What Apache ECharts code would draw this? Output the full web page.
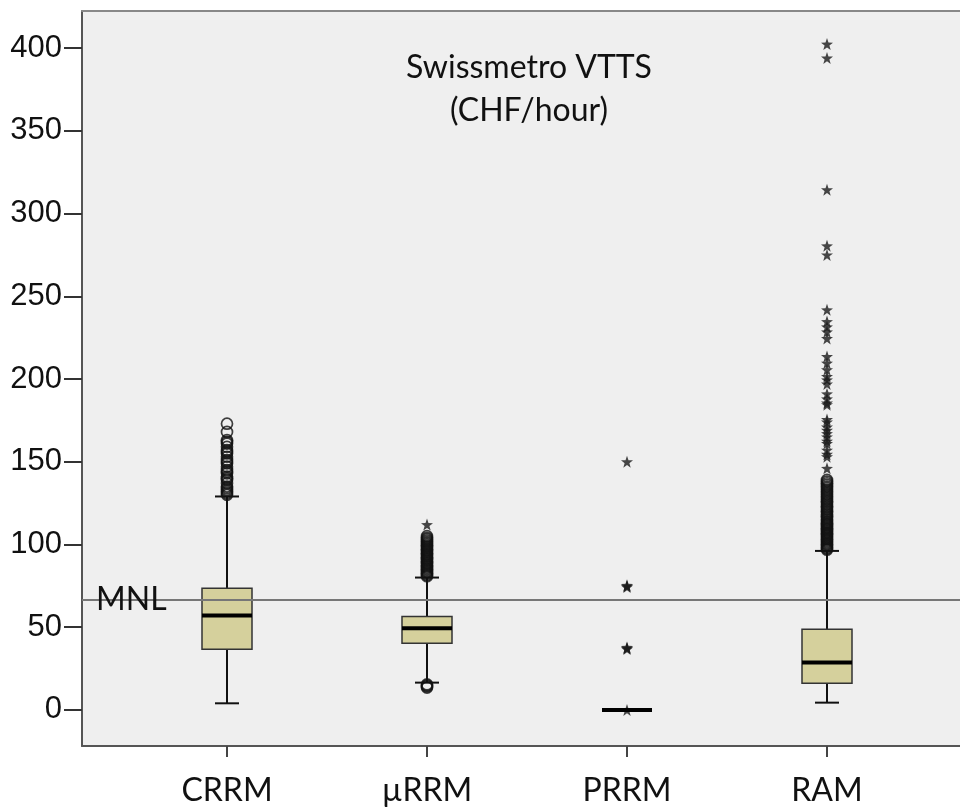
<!DOCTYPE html>
<html>
<head>
<meta charset="utf-8">
<title>Swissmetro VTTS</title>
<script src="https://cdn.jsdelivr.net/npm/echarts@6/dist/echarts.min.js"></script>
<style>
  html, body { margin: 0; padding: 0; background: #ffffff; }
  #chart { width: 960px; height: 810px; }
</style>
</head>
<body>
<div id="chart"></div>
<script>
// Models compared on the Swissmetro value of travel time savings
const categories = ['CRRM', 'µRRM', 'PRRM', 'RAM'];

// Box statistics per model (CHF/hour)
const whiskerLow  = [4.0, 16.5, 0, 4.4];
const quartile1   = [36.7, 40.3, 0, 16.1];
const median      = [57.0, 49.3, 0, 28.6];
const quartile3   = [73.6, 56.4, 0, 48.7];
const whiskerHigh = [129.0, 80.0, 0, 96.1];

// Outliers (circles) and extreme values (stars)
const crrmCircles = [130, 131, 132, 133, 134, 135, 137, 139, 140, 141, 143, 144, 145, 147, 149, 150, 151, 153, 155, 156, 157, 159, 161, 162, 163, 168, 173];
const urrmCircles = [13.5, 14.2, 14.8, 15.4, 80.8, 81.6, 82.4, 83.2, 84, 84.8, 85.6, 86.4, 87.2, 88, 88.8, 89.6, 90.4, 91.2, 92, 92.8, 93.6, 94.4, 95.2, 96, 96.8, 97.6, 98.4, 99.2, 100, 100.8, 101.6, 102.4, 103.2, 104, 105];
const urrmStars   = [112];
const prrmStars   = [0, 36.8, 37.3, 37.8, 74.3, 74.8, 75.3, 150];
const ramCircles  = [96.8, 97.5, 98.2, 99, 99.8, 100.5, 101.2, 102, 102.8, 103.5, 104.2, 105, 105.8, 106.5, 107.2, 108, 108.8, 109.5, 110.2, 111, 111.8, 112.5, 113.2, 114, 115, 116, 117, 118, 119, 120, 121, 122, 123, 124, 125, 126, 127, 128, 129, 130, 131, 132, 133, 134, 135, 136, 137, 138, 139];
const ramStars    = [146, 153, 154.5, 157, 161, 162.5, 165, 167, 169, 171, 174, 175.5, 184.5, 185.5, 188, 191, 197, 199.5, 201.5, 205.6, 209.6, 213.6, 224.5, 228.5, 231.5, 234.7, 241.8, 275, 280.5, 314.4, 394, 402.4];

// Multinomial logit reference value
const mnlValue = 66.5;

const yTicks = [0, 50, 100, 150, 200, 250, 300, 350, 400];
const xTicks = categories.map((c, i) => i + 1);

const boxData = categories.map((c, i) =>
  [i + 1, whiskerLow[i], quartile1[i], median[i], quartile3[i], whiskerHigh[i]]);

function pairs(xIndex, values) {
  return values.map(v => [xIndex, v]);
}

const STAR = 'path://M0,-10L2.35,-3.24L9.51,-3.09L3.8,1.24L5.88,8.09L0,4L-5.88,8.09L-3.8,1.24L-9.51,-3.09L-2.35,-3.24Z';

function renderBox(params, api) {
  const x = api.value(0);
  const pLow = api.coord([x, api.value(1)]);
  const pQ1 = api.coord([x, api.value(2)]);
  const pMed = api.coord([x, api.value(3)]);
  const pQ3 = api.coord([x, api.value(4)]);
  const pHigh = api.coord([x, api.value(5)]);
  const cx = pMed[0];
  const halfBox = 25;
  const halfCap = 12;
  const ink = { stroke: '#111', lineWidth: 2 };
  return {
    type: 'group',
    children: [
      { type: 'line', shape: { x1: cx, y1: pHigh[1], x2: cx, y2: pQ3[1] }, style: ink },
      { type: 'line', shape: { x1: cx, y1: pQ1[1], x2: cx, y2: pLow[1] }, style: ink },
      { type: 'line', shape: { x1: cx - halfCap, y1: pHigh[1], x2: cx + halfCap, y2: pHigh[1] }, style: ink },
      { type: 'line', shape: { x1: cx - halfCap, y1: pLow[1], x2: cx + halfCap, y2: pLow[1] }, style: ink },
      {
        type: 'rect',
        shape: { x: cx - halfBox, y: pQ3[1], width: halfBox * 2, height: pQ1[1] - pQ3[1] },
        style: { fill: '#d5d09c', stroke: '#333', lineWidth: 1.5 }
      },
      { type: 'line', shape: { x1: cx - halfBox, y1: pMed[1], x2: cx + halfBox, y2: pMed[1] }, style: { stroke: '#000', lineWidth: 4 } }
    ]
  };
}

const circleStyle = { color: 'rgba(0,0,0,0)', borderColor: '#111', borderWidth: 1.7 };
const starStyle = { color: '#1a1a1a' };

const chart = echarts.init(document.getElementById('chart'), null, { renderer: 'canvas' });

chart.setOption({
  animation: false,
  backgroundColor: '#ffffff',
  grid: {
    left: 82, right: 0, top: 11, bottom: 64,
    show: true,
    backgroundColor: '#efefef',
    borderWidth: 0
  },
  graphic: [{
    type: 'text',
    x: 529, y: 46,
    style: {
      text: 'Swissmetro VTTS\n(CHF/hour)',
      fontFamily: 'Lato',
      fontSize: 32,
      lineHeight: 43,
      fill: '#111',
      align: 'center',
      verticalAlign: 'top'
    }
  }],
  xAxis: [
    {
      type: 'value',
      min: 0.275,
      max: 4.665,
      splitLine: { show: false },
      axisLine: { show: true, onZero: false, lineStyle: { color: '#555', width: 2 } },
      axisTick: { show: true, customValues: xTicks, length: 11, lineStyle: { color: '#444', width: 2 } },
      axisLabel: {
        customValues: xTicks,
        formatter: v => categories[Math.round(v) - 1],
        margin: 29,
        fontFamily: 'Lato',
        fontSize: 32,
        color: '#111'
      }
    },
    {
      // top frame edge of the plot area
      type: 'value',
      position: 'top',
      min: 0.275,
      max: 4.665,
      splitLine: { show: false },
      axisLine: { show: true, onZero: false, lineStyle: { color: '#888', width: 2 } },
      axisTick: { show: false },
      axisLabel: { show: false }
    }
  ],
  yAxis: {
    type: 'value',
    min: -21.8,
    max: 422.4,
    splitLine: { show: false },
    axisLine: { show: true, onZero: false, lineStyle: { color: '#555', width: 2 } },
    axisTick: { show: true, customValues: yTicks, length: 18, lineStyle: { color: '#333', width: 2 } },
    axisLabel: {
      customValues: yTicks,
      margin: 20,
      fontFamily: 'Liberation Sans',
      fontSize: 31,
      color: '#111'
    }
  },
  series: [
    {
      type: 'scatter', name: 'CRRM outliers', symbol: 'circle', symbolSize: 11,
      itemStyle: circleStyle, data: pairs(1, crrmCircles), z: 2
    },
    {
      type: 'scatter', name: 'µRRM outliers', symbol: 'circle', symbolSize: 11,
      itemStyle: circleStyle, data: pairs(2, urrmCircles), z: 2
    },
    {
      type: 'scatter', name: 'RAM outliers', symbol: 'circle', symbolSize: 11,
      itemStyle: circleStyle, data: pairs(4, ramCircles), z: 2
    },
    {
      type: 'scatter', name: 'extremes', symbol: STAR, symbolSize: 12,
      itemStyle: starStyle,
      data: pairs(2, urrmStars).concat(pairs(3, prrmStars), pairs(4, ramStars)), z: 2
    },
    {
      type: 'custom', name: 'boxes', renderItem: renderBox, data: boxData, z: 3,
      markLine: {
        silent: true,
        symbol: ['none', 'none'],
        lineStyle: { color: '#777', width: 2, type: 'solid' },
        label: {
          show: true,
          position: 'insideStart',
          distance: [14, 0],
          verticalAlign: 'middle',
          formatter: 'MNL',
          fontFamily: 'Lato',
          fontSize: 32,
          color: '#111'
        },
        data: [{ yAxis: mnlValue }]
      }
    }
  ]
});
</script>
</body>
</html>
